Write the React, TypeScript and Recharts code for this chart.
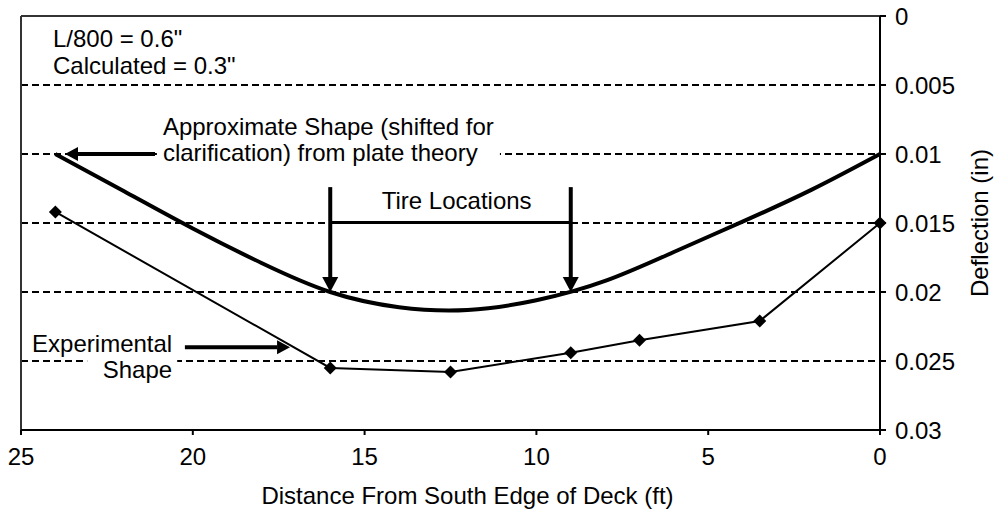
import {
  LineChart,
  Line,
  XAxis,
  YAxis,
  CartesianGrid,
  ReferenceLine,
  ReferenceDot,
} from "recharts";

// distance from south edge (ft) and deflection (in)
const distanceTicks = [0, 5, 10, 15, 20, 25];
const deflectionTicks = [0, 0.005, 0.01, 0.015, 0.02, 0.025, 0.03];

const experimentalX = [24, 16, 12.5, 9, 7, 3.5, 0];
const experimentalY = [0.0142, 0.0255, 0.0258, 0.0244, 0.0235, 0.0221, 0.015];

// plate theory shape (shifted)
const plateX = [24, 22, 20, 18, 16, 14, 12, 10, 8, 6, 4, 2, 0];
const plateY = [
  0.01, 0.0127, 0.0154, 0.0179, 0.02, 0.0211, 0.0213, 0.0206, 0.0192, 0.0171,
  0.0149, 0.0126, 0.01,
];

const tireX = [16, 9];

const experimentalData = experimentalX.map((x, i) => ({ x, y: experimentalY[i] }));
const plateData = plateX.map((x, i) => ({ x, y: plateY[i] }));

const FONT = "'Liberation Sans', Arial, sans-serif";

const Diamond = (props: any) => {
  const { cx, cy } = props;
  if (cx == null || cy == null) return null;
  const s = 6.5;
  return (
    <polygon
      points={`${cx},${cy - s} ${cx + s},${cy} ${cx},${cy + s} ${cx - s},${cy}`}
      fill="#000"
    />
  );
};

const arrow = (width: number, len: number, half: number) => (props: any) => {
  const { x1, y1, x2, y2 } = props;
  const ang = Math.atan2(y2 - y1, x2 - x1);
  const bx = x2 - len * Math.cos(ang);
  const by = y2 - len * Math.sin(ang);
  const px = -Math.sin(ang) * half;
  const py = Math.cos(ang) * half;
  return (
    <g>
      <line x1={x1} y1={y1} x2={bx} y2={by} stroke="#000" strokeWidth={width} />
      <polygon
        points={`${x2},${y2} ${bx + px},${by + py} ${bx - px},${by - py}`}
        fill="#000"
      />
    </g>
  );
};

const plainLine = (props: any) => (
  <line x1={props.x1} y1={props.y1} x2={props.x2} y2={props.y2} stroke="#000" strokeWidth={3} />
);

const txt = { fontFamily: FONT, fontSize: 24, fill: "#000" };

const limitsNote = (props: any) => (
  <g>
    <text x={props.cx} y={props.cy} {...txt}>L/800 = 0.6"</text>
    <text x={props.cx} y={props.cy + 27} {...txt}>Calculated = 0.3"</text>
  </g>
);

const plateNote = (props: any) => (
  <g>
    <rect x={props.cx - 6} y={props.cy - 22} width={343} height={58} fill="#fff" />
    <text x={props.cx} y={props.cy} {...txt}>Approximate Shape (shifted for</text>
    <text x={props.cx} y={props.cy + 26} {...txt}>clarification) from plate theory</text>
  </g>
);

const tireNote = (props: any) => (
  <text x={props.cx} y={props.cy} textAnchor="middle" {...txt}>Tire Locations</text>
);

const experimentalNote = (props: any) => (
  <g>
    <rect x={props.cx - 85} y={props.cy + 4} width={90} height={28} fill="#fff" />
    <text x={props.cx} y={props.cy} textAnchor="end" {...txt}>Experimental</text>
    <text x={props.cx} y={props.cy + 26} textAnchor="end" {...txt}>Shape</text>
  </g>
);

export default function App() {
  return (
    <div style={{ position: "absolute", left: 0, top: 0, background: "#fff" }}>
      <LineChart
        width={996}
        height={510}
        margin={{ top: 16, right: 0, left: 21, bottom: 0 }}
      >
        <CartesianGrid
          vertical={false}
          stroke="#000"
          strokeWidth={2}
          strokeDasharray="7 4"
        />
        <XAxis
          type="number"
          dataKey="x"
          domain={[0, 25]}
          ticks={distanceTicks}
          reversed
          height={80}
          stroke="#000"
          strokeWidth={2}
          tickSize={5}
          tickMargin={13}
          tick={{ fontFamily: FONT, fontSize: 24, fill: "#000" }}
          label={{
            value: "Distance From South Edge of Deck (ft)",
            position: "center",
            dx: 17,
            dy: 25,
            style: { fontFamily: FONT, fontSize: 24, fill: "#000" },
          }}
        />
        <YAxis
          type="number"
          dataKey="y"
          orientation="right"
          domain={[0, 0.03]}
          ticks={deflectionTicks}
          reversed
          width={116}
          stroke="#000"
          strokeWidth={2}
          tickSize={6}
          tickMargin={9}
          tick={{ fontFamily: FONT, fontSize: 24, fill: "#000" }}
          label={{
            value: "Deflection (in)",
            angle: -90,
            position: "center",
            dx: 41,
            style: { fontFamily: FONT, fontSize: 24, fill: "#000", textAnchor: "middle" },
          }}
        />
        <ReferenceLine y={0} stroke="#333" strokeWidth={2} />
        <ReferenceLine x={25} stroke="#333" strokeWidth={2} />

        <ReferenceDot x={24.07} y={0.00225} shape={limitsNote} />
        <ReferenceDot x={20.87} y={0.00862} shape={plateNote} />
        <ReferenceDot x={12.32} y={0.01399} shape={tireNote} />
        <ReferenceDot x={20.6} y={0.02435} shape={experimentalNote} />

        <ReferenceLine
          segment={[{ x: 21.1, y: 0.01 }, { x: 23.72, y: 0.01 }]}
          shape={arrow(4, 13, 7)}
        />
        {tireX.map((t) => (
          <ReferenceLine
            key={t}
            segment={[{ x: t, y: 0.0124 }, { x: t, y: 0.02 }]}
            shape={arrow(4, 15, 8)}
          />
        ))}
        <ReferenceLine
          segment={[{ x: tireX[0], y: 0.01497 }, { x: tireX[1], y: 0.01497 }]}
          shape={plainLine}
        />
        <ReferenceLine
          segment={[{ x: 20.23, y: 0.024 }, { x: 17.17, y: 0.024 }]}
          shape={arrow(4, 13, 7)}
        />

        <Line
          data={plateData}
          dataKey="y"
          type="natural"
          stroke="#000"
          strokeWidth={4}
          dot={false}
          activeDot={false}
          isAnimationActive={false}
        />
        <Line
          data={experimentalData}
          dataKey="y"
          type="linear"
          stroke="#000"
          strokeWidth={2}
          dot={<Diamond />}
          activeDot={false}
          isAnimationActive={false}
        />
      </LineChart>
    </div>
  );
}
